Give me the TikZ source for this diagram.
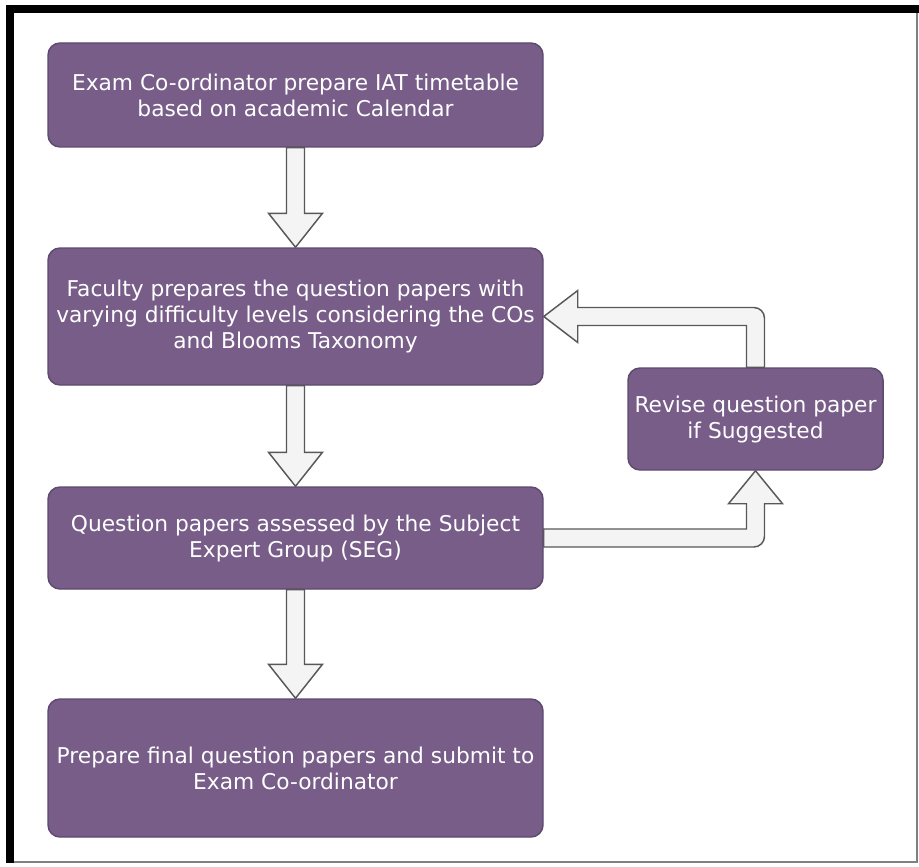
\documentclass[tikz,border=0pt]{standalone}
\usepackage{fontspec}
\setmainfont{DejaVu Sans}
\usetikzlibrary{calc}
\definecolor{stepfill}{HTML}{775D88}
\definecolor{stepline}{HTML}{5E4A70}
\definecolor{arrowfill}{HTML}{F4F4F4}
\definecolor{arrowline}{HTML}{585858}
\tikzset{
  stepbox/.style={draw=stepline, line width=1.1pt, fill=stepfill, rounded corners=9pt,
    text=white, align=center, inner sep=0pt, minimum width=371.25pt,
    font=\fontsize{16.3}{19.5}\selectfont},
  blockarrow/.style={draw=arrowline, line width=1.1pt, fill=arrowfill, line join=miter},
}
\begin{document}
\begin{tikzpicture}[x=0.75pt, y=-0.75pt]
  % page and frame
  \useasboundingbox (0,0) rectangle (919,866);
  \fill[white] (0,0) rectangle (919,866);
  \fill[black] (6,5) rectangle (919,13);
  \fill[black] (6,5) rectangle (14,863);
  \draw[gray, line width=1pt] (14,862) -- (917,862) -- (917,13);

  % process steps
  \node[stepbox, minimum height=78pt] (b1) at (295.5,95)
    {Exam Co-ordinator prepare IAT timetable\\based on academic Calendar};
  \node[stepbox, minimum height=102.75pt] (b2) at (295.5,316.5)
    {Faculty prepares the question papers with\\varying difficulty levels considering the COs\\and Blooms Taxonomy};
  \node[stepbox, minimum height=76.5pt] (b3) at (295.5,538)
    {Question papers assessed by the Subject\\Expert Group (SEG)};
  \node[stepbox, minimum height=103.5pt] (b4) at (295.5,768)
    {Prepare final question papers and submit to\\Exam Co-ordinator};
  \node[stepbox, minimum width=191.25pt, minimum height=76.5pt] (b5) at (755.5,419)
    {Revise question paper\\if Suggested};

  % downward block arrows between consecutive steps
  \foreach \a/\b in {b1/b2, b2/b3, b3/b4}{
    \draw[blockarrow]
      ($(\a.south)+(-9,0)$) -- ($(\b.north)+(-9,-34)$) -- ($(\b.north)+(-27,-34)$)
      -- (\b.north) -- ($(\b.north)+(27,-34)$) -- ($(\b.north)+(9,-34)$)
      -- ($(\a.south)+(9,0)$) -- cycle;
  }

  % block arrow from the review step up to the revision step
  \draw[blockarrow]
    ($(b3.east)+(0,-9)$) -- ($(b5.south |- b3.east)+(-9,-9)$)
    -- ($(b5.south)+(-9,33)$) -- ($(b5.south)+(-27,33)$) -- (b5.south)
    -- ($(b5.south)+(27,33)$) -- ($(b5.south)+(9,33)$)
    [rounded corners=8pt] -- ($(b5.south |- b3.east)+(9,9)$) [sharp corners]
    -- ($(b3.east)+(0,9)$) -- cycle;

  % block arrow from the revision step back to the preparation step
  \draw[blockarrow]
    ($(b5.north)+(-9,0)$) -- ($(b5.north |- b2.east)+(-9,9)$)
    -- ($(b2.east)+(34,9)$) -- ($(b2.east)+(34,26)$) -- (b2.east)
    -- ($(b2.east)+(34,-26)$) -- ($(b2.east)+(34,-9)$)
    [rounded corners=8pt] -- ($(b5.north |- b2.east)+(9,-9)$) [sharp corners]
    -- ($(b5.north)+(9,0)$) -- cycle;
\end{tikzpicture}
\end{document}
